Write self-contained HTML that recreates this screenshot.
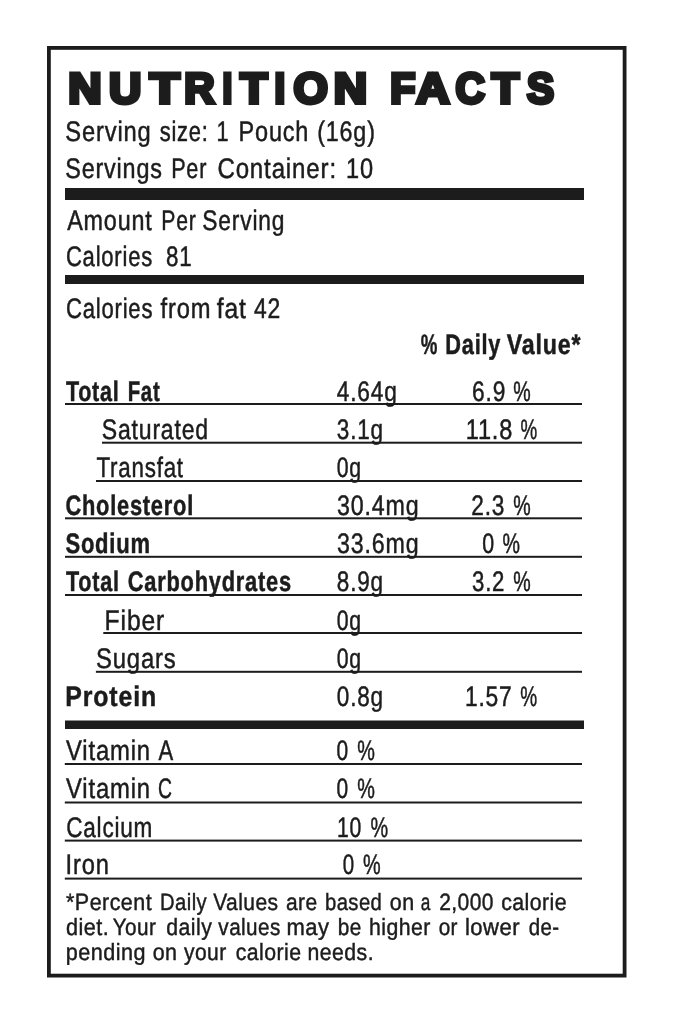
<!DOCTYPE html>
<html><head><meta charset="utf-8"><title>Nutrition Facts</title>
<style>html,body{margin:0;padding:0;background:#fff;width:673px;height:1024px;overflow:hidden}
svg{position:absolute;left:0;top:0;font-family:"Liberation Sans",sans-serif;will-change:transform;text-rendering:geometricPrecision}</style></head>
<body><svg width="673" height="1024" viewBox="0 0 673 1024" fill="#1c1c1c">
<rect x="48.90" y="47.90" width="575.70" height="927.70" fill="none" stroke="#1c1c1c" stroke-width="3.80"/>
<rect x="65.00" y="403.00" width="517.00" height="2.00"/><rect x="102.00" y="441.70" width="480.00" height="2.00"/><rect x="96.00" y="480.00" width="486.00" height="2.00"/><rect x="65.00" y="517.30" width="517.00" height="2.00"/><rect x="65.00" y="555.80" width="517.00" height="2.00"/><rect x="65.00" y="594.00" width="517.00" height="2.00"/><rect x="103.30" y="632.00" width="478.70" height="2.00"/><rect x="95.90" y="670.80" width="486.10" height="2.00"/><rect x="64.80" y="763.00" width="517.20" height="2.00"/><rect x="64.80" y="801.50" width="517.20" height="2.00"/><rect x="64.80" y="839.60" width="517.20" height="2.00"/><rect x="64.80" y="877.60" width="517.20" height="2.00"/><rect x="65.00" y="188.00" width="519.00" height="12.00"/><rect x="65.00" y="275.00" width="519.00" height="9.00"/><rect x="65.00" y="720.50" width="519.00" height="8.50"/>
<text transform="translate(68.30 103) scale(1.0742 1)" font-size="43.00" font-weight="bold" stroke="#1c1c1c" stroke-width="4.00" stroke-linejoin="miter">N</text>
<text transform="translate(108.90 103) scale(1.0406 1)" font-size="43.00" font-weight="bold" stroke="#1c1c1c" stroke-width="4.00" stroke-linejoin="miter">U</text>
<text transform="translate(149.68 103) scale(1.1387 1)" font-size="43.00" font-weight="bold" stroke="#1c1c1c" stroke-width="4.00" stroke-linejoin="miter">T</text>
<text transform="translate(184.20 103) scale(0.9765 1)" font-size="43.00" font-weight="bold" stroke="#1c1c1c" stroke-width="4.00" stroke-linejoin="miter">R</text>
<text transform="translate(222.40 103) scale(0.8167 1)" font-size="43.00" font-weight="bold" stroke="#1c1c1c" stroke-width="4.00" stroke-linejoin="miter">I</text>
<text transform="translate(240.27 103) scale(1.0355 1)" font-size="43.00" font-weight="bold" stroke="#1c1c1c" stroke-width="4.00" stroke-linejoin="miter">T</text>
<text transform="translate(274.40 103) scale(0.8917 1)" font-size="43.00" font-weight="bold" stroke="#1c1c1c" stroke-width="4.00" stroke-linejoin="miter">I</text>
<text transform="translate(293.53 103) scale(1.0286 1)" font-size="43.00" font-weight="bold" stroke="#1c1c1c" stroke-width="4.00" stroke-linejoin="miter">O</text>
<text transform="translate(333.70 103) scale(1.0742 1)" font-size="43.00" font-weight="bold" stroke="#1c1c1c" stroke-width="4.00" stroke-linejoin="miter">N</text>
<text transform="translate(390.30 103) scale(0.9571 1)" font-size="43.00" font-weight="bold" stroke="#1c1c1c" stroke-width="4.00" stroke-linejoin="miter">F</text>
<text transform="translate(416.24 103) scale(1.0714 1)" font-size="43.00" font-weight="bold" stroke="#1c1c1c" stroke-width="4.00" stroke-linejoin="miter">A</text>
<text transform="translate(455.44 103) scale(0.9441 1)" font-size="43.00" font-weight="bold" stroke="#1c1c1c" stroke-width="4.00" stroke-linejoin="miter">C</text>
<text transform="translate(491.78 103) scale(1.0387 1)" font-size="43.00" font-weight="bold" stroke="#1c1c1c" stroke-width="4.00" stroke-linejoin="miter">T</text>
<text transform="translate(526.89 103) scale(0.9438 1)" font-size="43.00" font-weight="bold" stroke="#1c1c1c" stroke-width="4.00" stroke-linejoin="miter">S</text>
<text transform="translate(65.32 141) scale(0.8417 1)" font-size="28.20" font-weight="normal" stroke="#1c1c1c" stroke-width="0.50" stroke-linejoin="miter" letter-spacing="1.00">Serving</text>
<text transform="translate(159.63 141) scale(0.7795 1)" font-size="28.20" font-weight="normal" stroke="#1c1c1c" stroke-width="0.50" stroke-linejoin="miter" letter-spacing="1.00">size:</text>
<text transform="translate(216.58 141) scale(0.7713 1)" font-size="28.20" font-weight="normal" stroke="#1c1c1c" stroke-width="0.50" stroke-linejoin="miter">1</text>
<text transform="translate(238.52 141) scale(0.8329 1)" font-size="28.20" font-weight="normal" stroke="#1c1c1c" stroke-width="0.50" stroke-linejoin="miter" letter-spacing="1.00">Pouch</text>
<text transform="translate(317.25 141) scale(0.8256 1)" font-size="28.20" font-weight="normal" stroke="#1c1c1c" stroke-width="0.50" stroke-linejoin="miter" letter-spacing="1.00">(16g)</text>
<text transform="translate(65.24 178) scale(0.8289 1)" font-size="28.20" font-weight="normal" stroke="#1c1c1c" stroke-width="0.50" stroke-linejoin="miter" letter-spacing="1.00">Servings</text>
<text transform="translate(171.16 178) scale(0.7676 1)" font-size="28.20" font-weight="normal" stroke="#1c1c1c" stroke-width="0.50" stroke-linejoin="miter" letter-spacing="1.00">Per</text>
<text transform="translate(217.41 178) scale(0.8534 1)" font-size="28.20" font-weight="normal" stroke="#1c1c1c" stroke-width="0.50" stroke-linejoin="miter" letter-spacing="1.00">Container:</text>
<text transform="translate(346.03 178) scale(0.8347 1)" font-size="28.20" font-weight="normal" stroke="#1c1c1c" stroke-width="0.50" stroke-linejoin="miter" letter-spacing="1.00">10</text>
<text transform="translate(67.17 230) scale(0.8280 1)" font-size="28.20" font-weight="normal" stroke="#1c1c1c" stroke-width="0.50" stroke-linejoin="miter" letter-spacing="1.00">Amount</text>
<text transform="translate(161.32 230) scale(0.7524 1)" font-size="28.20" font-weight="normal" stroke="#1c1c1c" stroke-width="0.50" stroke-linejoin="miter" letter-spacing="1.00">Per</text>
<text transform="translate(202.35 230) scale(0.8078 1)" font-size="28.20" font-weight="normal" stroke="#1c1c1c" stroke-width="0.50" stroke-linejoin="miter" letter-spacing="1.00">Serving</text>
<text transform="translate(65.91 266) scale(0.7817 1)" font-size="28.20" font-weight="normal" stroke="#1c1c1c" stroke-width="0.50" stroke-linejoin="miter" letter-spacing="1.00">Calories</text>
<text transform="translate(165.95 266) scale(0.7939 1)" font-size="28.20" font-weight="normal" stroke="#1c1c1c" stroke-width="0.50" stroke-linejoin="miter" letter-spacing="1.00">81</text>
<text transform="translate(65.93 318) scale(0.7840 1)" font-size="28.20" font-weight="normal" stroke="#1c1c1c" stroke-width="0.50" stroke-linejoin="miter" letter-spacing="1.00">Calories</text>
<text transform="translate(160.55 318) scale(0.8407 1)" font-size="28.20" font-weight="normal" stroke="#1c1c1c" stroke-width="0.50" stroke-linejoin="miter" letter-spacing="1.00">from</text>
<text transform="translate(216.79 318) scale(0.8740 1)" font-size="28.20" font-weight="normal" stroke="#1c1c1c" stroke-width="0.50" stroke-linejoin="miter" letter-spacing="1.00">fat</text>
<text transform="translate(254.00 318) scale(0.8125 1)" font-size="28.20" font-weight="normal" stroke="#1c1c1c" stroke-width="0.50" stroke-linejoin="miter" letter-spacing="1.00">42</text>
<text transform="translate(420.70 354) scale(0.6640 1)" font-size="28.20" font-weight="bold" stroke="#1c1c1c" stroke-width="0.50" stroke-linejoin="miter">%</text>
<text transform="translate(445.31 354) scale(0.7724 1)" font-size="28.20" font-weight="bold" stroke="#1c1c1c" stroke-width="0.50" stroke-linejoin="miter" letter-spacing="1.00">Daily</text>
<text transform="translate(506.69 354) scale(0.8235 1)" font-size="28.20" font-weight="bold" stroke="#1c1c1c" stroke-width="0.50" stroke-linejoin="miter" letter-spacing="1.00">Value*</text>
<text transform="translate(65.89 401) scale(0.7636 1)" font-size="28.20" font-weight="bold" stroke="#1c1c1c" stroke-width="0.50" stroke-linejoin="miter" letter-spacing="1.00">Total</text>
<text transform="translate(127.68 401) scale(0.7227 1)" font-size="28.20" font-weight="bold" stroke="#1c1c1c" stroke-width="0.50" stroke-linejoin="miter" letter-spacing="1.00">Fat</text>
<text transform="translate(336.85 401) scale(0.8042 1)" font-size="28.20" font-weight="normal" stroke="#1c1c1c" stroke-width="0.50" stroke-linejoin="miter" letter-spacing="1.00">4.64g</text>
<text transform="translate(472.08 401) scale(0.8060 1)" font-size="28.20" font-weight="normal" stroke="#1c1c1c" stroke-width="0.50" stroke-linejoin="miter" letter-spacing="1.00">6.9</text>
<text transform="translate(513.20 401) scale(0.6960 1)" font-size="28.20" font-weight="normal" stroke="#1c1c1c" stroke-width="0.50" stroke-linejoin="miter">%</text>
<text transform="translate(101.74 439) scale(0.8170 1)" font-size="28.20" font-weight="normal" stroke="#1c1c1c" stroke-width="0.50" stroke-linejoin="miter" letter-spacing="1.00">Saturated</text>
<text transform="translate(336.83 439) scale(0.7974 1)" font-size="28.20" font-weight="normal" stroke="#1c1c1c" stroke-width="0.50" stroke-linejoin="miter" letter-spacing="1.00">3.1g</text>
<text transform="translate(465.68 439) scale(0.8364 1)" font-size="28.20" font-weight="normal" stroke="#1c1c1c" stroke-width="0.50" stroke-linejoin="miter" letter-spacing="1.00">11.8</text>
<text transform="translate(520.50 439) scale(0.6680 1)" font-size="28.20" font-weight="normal" stroke="#1c1c1c" stroke-width="0.50" stroke-linejoin="miter">%</text>
<text transform="translate(96.41 477) scale(0.7926 1)" font-size="28.20" font-weight="normal" stroke="#1c1c1c" stroke-width="0.50" stroke-linejoin="miter" letter-spacing="1.00">Transfat</text>
<text transform="translate(336.74 477) scale(0.7537 1)" font-size="28.20" font-weight="normal" stroke="#1c1c1c" stroke-width="0.50" stroke-linejoin="miter" letter-spacing="1.00">0g</text>
<text transform="translate(65.38 515) scale(0.7746 1)" font-size="28.20" font-weight="bold" stroke="#1c1c1c" stroke-width="0.50" stroke-linejoin="miter" letter-spacing="1.00">Cholesterol</text>
<text transform="translate(337.00 515) scale(0.8235 1)" font-size="28.20" font-weight="normal" stroke="#1c1c1c" stroke-width="0.50" stroke-linejoin="miter" letter-spacing="1.00">30.4mg</text>
<text transform="translate(471.27 515) scale(0.8040 1)" font-size="28.20" font-weight="normal" stroke="#1c1c1c" stroke-width="0.50" stroke-linejoin="miter" letter-spacing="1.00">2.3</text>
<text transform="translate(513.20 515) scale(0.6960 1)" font-size="28.20" font-weight="normal" stroke="#1c1c1c" stroke-width="0.50" stroke-linejoin="miter">%</text>
<text transform="translate(65.44 553) scale(0.7799 1)" font-size="28.20" font-weight="bold" stroke="#1c1c1c" stroke-width="0.50" stroke-linejoin="miter" letter-spacing="1.00">Sodium</text>
<text transform="translate(337.00 553) scale(0.8235 1)" font-size="28.20" font-weight="normal" stroke="#1c1c1c" stroke-width="0.50" stroke-linejoin="miter" letter-spacing="1.00">33.6mg</text>
<text transform="translate(482.33 553) scale(0.7591 1)" font-size="28.20" font-weight="normal" stroke="#1c1c1c" stroke-width="0.50" stroke-linejoin="miter">0</text>
<text transform="translate(502.50 553) scale(0.6960 1)" font-size="28.20" font-weight="normal" stroke="#1c1c1c" stroke-width="0.50" stroke-linejoin="miter">%</text>
<text transform="translate(66.01 591) scale(0.7660 1)" font-size="28.20" font-weight="bold" stroke="#1c1c1c" stroke-width="0.50" stroke-linejoin="miter" letter-spacing="1.00">Total</text>
<text transform="translate(127.77 591) scale(0.7742 1)" font-size="28.20" font-weight="bold" stroke="#1c1c1c" stroke-width="0.50" stroke-linejoin="miter" letter-spacing="1.00">Carbohydrates</text>
<text transform="translate(336.83 591) scale(0.7974 1)" font-size="28.20" font-weight="normal" stroke="#1c1c1c" stroke-width="0.50" stroke-linejoin="miter" letter-spacing="1.00">8.9g</text>
<text transform="translate(472.01 591) scale(0.7873 1)" font-size="28.20" font-weight="normal" stroke="#1c1c1c" stroke-width="0.50" stroke-linejoin="miter" letter-spacing="1.00">3.2</text>
<text transform="translate(513.20 591) scale(0.6960 1)" font-size="28.20" font-weight="normal" stroke="#1c1c1c" stroke-width="0.50" stroke-linejoin="miter">%</text>
<text transform="translate(104.61 630) scale(0.8740 1)" font-size="28.20" font-weight="normal" stroke="#1c1c1c" stroke-width="0.50" stroke-linejoin="miter" letter-spacing="1.00">Fiber</text>
<text transform="translate(336.74 630) scale(0.7537 1)" font-size="28.20" font-weight="normal" stroke="#1c1c1c" stroke-width="0.50" stroke-linejoin="miter" letter-spacing="1.00">0g</text>
<text transform="translate(96.03 668) scale(0.8447 1)" font-size="28.20" font-weight="normal" stroke="#1c1c1c" stroke-width="0.50" stroke-linejoin="miter" letter-spacing="1.00">Sugars</text>
<text transform="translate(336.74 668) scale(0.7537 1)" font-size="28.20" font-weight="normal" stroke="#1c1c1c" stroke-width="0.50" stroke-linejoin="miter" letter-spacing="1.00">0g</text>
<text transform="translate(65.22 706) scale(0.8814 1)" font-size="28.20" font-weight="bold" stroke="#1c1c1c" stroke-width="0.50" stroke-linejoin="miter" letter-spacing="1.00">Protein</text>
<text transform="translate(336.83 706) scale(0.7974 1)" font-size="28.20" font-weight="normal" stroke="#1c1c1c" stroke-width="0.50" stroke-linejoin="miter" letter-spacing="1.00">0.8g</text>
<text transform="translate(464.88 706) scale(0.8093 1)" font-size="28.20" font-weight="normal" stroke="#1c1c1c" stroke-width="0.50" stroke-linejoin="miter" letter-spacing="1.00">1.57</text>
<text transform="translate(520.30 706) scale(0.6760 1)" font-size="28.20" font-weight="normal" stroke="#1c1c1c" stroke-width="0.50" stroke-linejoin="miter">%</text>
<text transform="translate(66.00 760) scale(0.8455 1)" font-size="28.20" font-weight="normal" stroke="#1c1c1c" stroke-width="0.50" stroke-linejoin="miter" letter-spacing="1.00">Vitamin</text>
<text transform="translate(158.43 760) scale(0.7805 1)" font-size="28.20" font-weight="normal" stroke="#1c1c1c" stroke-width="0.50" stroke-linejoin="miter">A</text>
<text transform="translate(336.61 760) scale(0.7429 1)" font-size="28.20" font-weight="normal" stroke="#1c1c1c" stroke-width="0.50" stroke-linejoin="miter">0</text>
<text transform="translate(357.20 760) scale(0.7040 1)" font-size="28.20" font-weight="normal" stroke="#1c1c1c" stroke-width="0.50" stroke-linejoin="miter">%</text>
<text transform="translate(66.00 798) scale(0.8455 1)" font-size="28.20" font-weight="normal" stroke="#1c1c1c" stroke-width="0.50" stroke-linejoin="miter" letter-spacing="1.00">Vitamin</text>
<text transform="translate(157.90 798) scale(0.6853 1)" font-size="28.20" font-weight="normal" stroke="#1c1c1c" stroke-width="0.50" stroke-linejoin="miter">C</text>
<text transform="translate(336.61 798) scale(0.7429 1)" font-size="28.20" font-weight="normal" stroke="#1c1c1c" stroke-width="0.50" stroke-linejoin="miter">0</text>
<text transform="translate(357.20 798) scale(0.7040 1)" font-size="28.20" font-weight="normal" stroke="#1c1c1c" stroke-width="0.50" stroke-linejoin="miter">%</text>
<text transform="translate(66.18 837) scale(0.7995 1)" font-size="28.20" font-weight="normal" stroke="#1c1c1c" stroke-width="0.50" stroke-linejoin="miter" letter-spacing="1.00">Calcium</text>
<text transform="translate(336.99 837) scale(0.7521 1)" font-size="28.20" font-weight="normal" stroke="#1c1c1c" stroke-width="0.50" stroke-linejoin="miter" letter-spacing="1.00">10</text>
<text transform="translate(370.40 837) scale(0.7040 1)" font-size="28.20" font-weight="normal" stroke="#1c1c1c" stroke-width="0.50" stroke-linejoin="miter">%</text>
<text transform="translate(65.58 874) scale(0.8392 1)" font-size="28.20" font-weight="normal" stroke="#1c1c1c" stroke-width="0.50" stroke-linejoin="miter" letter-spacing="1.00">Iron</text>
<text transform="translate(342.79 874) scale(0.7267 1)" font-size="28.20" font-weight="normal" stroke="#1c1c1c" stroke-width="0.50" stroke-linejoin="miter">0</text>
<text transform="translate(363.10 874) scale(0.7040 1)" font-size="28.20" font-weight="normal" stroke="#1c1c1c" stroke-width="0.50" stroke-linejoin="miter">%</text>
<text transform="translate(66.04 910) scale(0.9141 1)" font-size="23.50" font-weight="normal" stroke="#1c1c1c" stroke-width="0.45" stroke-linejoin="miter" letter-spacing="0.50">*Percent</text>
<text transform="translate(160.06 910) scale(0.8602 1)" font-size="23.50" font-weight="normal" stroke="#1c1c1c" stroke-width="0.45" stroke-linejoin="miter" letter-spacing="0.50">Daily</text>
<text transform="translate(213.17 910) scale(0.8939 1)" font-size="23.50" font-weight="normal" stroke="#1c1c1c" stroke-width="0.45" stroke-linejoin="miter" letter-spacing="0.50">Values</text>
<text transform="translate(285.88 910) scale(0.8924 1)" font-size="23.50" font-weight="normal" stroke="#1c1c1c" stroke-width="0.45" stroke-linejoin="miter" letter-spacing="0.50">are</text>
<text transform="translate(324.99 910) scale(0.8609 1)" font-size="23.50" font-weight="normal" stroke="#1c1c1c" stroke-width="0.45" stroke-linejoin="miter" letter-spacing="0.50">based</text>
<text transform="translate(389.83 910) scale(0.9127 1)" font-size="23.50" font-weight="normal" stroke="#1c1c1c" stroke-width="0.45" stroke-linejoin="miter" letter-spacing="0.50">on</text>
<text transform="translate(420.82 910) scale(0.7329 1)" font-size="23.50" font-weight="normal" stroke="#1c1c1c" stroke-width="0.45" stroke-linejoin="miter">a</text>
<text transform="translate(439.18 910) scale(0.8941 1)" font-size="23.50" font-weight="normal" stroke="#1c1c1c" stroke-width="0.45" stroke-linejoin="miter" letter-spacing="0.50">2,000</text>
<text transform="translate(501.16 910) scale(0.9068 1)" font-size="23.50" font-weight="normal" stroke="#1c1c1c" stroke-width="0.45" stroke-linejoin="miter" letter-spacing="0.50">calorie</text>
<text transform="translate(65.99 935) scale(0.9204 1)" font-size="23.50" font-weight="normal" stroke="#1c1c1c" stroke-width="0.45" stroke-linejoin="miter" letter-spacing="0.50">diet.</text>
<text transform="translate(112.63 935) scale(0.8827 1)" font-size="23.50" font-weight="normal" stroke="#1c1c1c" stroke-width="0.45" stroke-linejoin="miter" letter-spacing="0.50">Your</text>
<text transform="translate(166.32 935) scale(0.9030 1)" font-size="23.50" font-weight="normal" stroke="#1c1c1c" stroke-width="0.45" stroke-linejoin="miter" letter-spacing="0.50">daily</text>
<text transform="translate(218.36 935) scale(0.8796 1)" font-size="23.50" font-weight="normal" stroke="#1c1c1c" stroke-width="0.45" stroke-linejoin="miter" letter-spacing="0.50">values</text>
<text transform="translate(286.52 935) scale(0.9354 1)" font-size="23.50" font-weight="normal" stroke="#1c1c1c" stroke-width="0.45" stroke-linejoin="miter" letter-spacing="0.50">may</text>
<text transform="translate(337.87 935) scale(0.8833 1)" font-size="23.50" font-weight="normal" stroke="#1c1c1c" stroke-width="0.45" stroke-linejoin="miter" letter-spacing="0.50">be</text>
<text transform="translate(369.04 935) scale(0.9047 1)" font-size="23.50" font-weight="normal" stroke="#1c1c1c" stroke-width="0.45" stroke-linejoin="miter" letter-spacing="0.50">higher</text>
<text transform="translate(438.67 935) scale(0.8803 1)" font-size="23.50" font-weight="normal" stroke="#1c1c1c" stroke-width="0.45" stroke-linejoin="miter" letter-spacing="0.50">or</text>
<text transform="translate(464.92 935) scale(0.9384 1)" font-size="23.50" font-weight="normal" stroke="#1c1c1c" stroke-width="0.45" stroke-linejoin="miter" letter-spacing="0.50">lower</text>
<text transform="translate(528.81 935) scale(0.8680 1)" font-size="23.50" font-weight="normal" stroke="#1c1c1c" stroke-width="0.45" stroke-linejoin="miter" letter-spacing="0.50">de-</text>
<text transform="translate(65.77 960) scale(0.9194 1)" font-size="23.50" font-weight="normal" stroke="#1c1c1c" stroke-width="0.45" stroke-linejoin="miter" letter-spacing="0.50">pending</text>
<text transform="translate(152.63 960) scale(0.9127 1)" font-size="23.50" font-weight="normal" stroke="#1c1c1c" stroke-width="0.45" stroke-linejoin="miter" letter-spacing="0.50">on</text>
<text transform="translate(183.98 960) scale(0.8945 1)" font-size="23.50" font-weight="normal" stroke="#1c1c1c" stroke-width="0.45" stroke-linejoin="miter" letter-spacing="0.50">your</text>
<text transform="translate(235.65 960) scale(0.9056 1)" font-size="23.50" font-weight="normal" stroke="#1c1c1c" stroke-width="0.45" stroke-linejoin="miter" letter-spacing="0.50">calorie</text>
<text transform="translate(307.53 960) scale(0.9033 1)" font-size="23.50" font-weight="normal" stroke="#1c1c1c" stroke-width="0.45" stroke-linejoin="miter" letter-spacing="0.50">needs.</text>
</svg></body></html>
